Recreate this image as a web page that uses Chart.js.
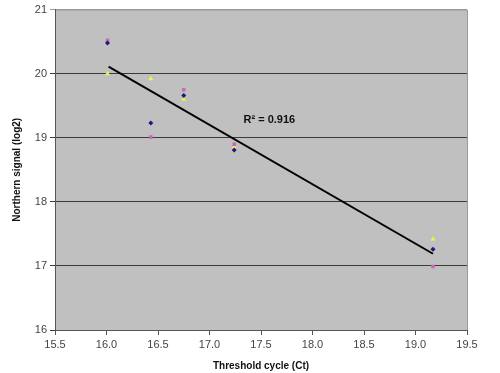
<!DOCTYPE html>
<html>
<head>
<meta charset="utf-8">
<script src="https://cdn.jsdelivr.net/npm/chart.js@4"></script>
<style>
  html, body { margin: 0; padding: 0; background: #fff; }
  #wrap { width: 500px; height: 373px; }
</style>
</head>
<body>
<div id="wrap"><canvas id="myChart" width="500" height="373"></canvas></div>
<script>
// Ct values for each sample (x) and the three replicate northern readings (y)
const ctValues = [16.01, 16.43, 16.75, 17.24, 19.17];
const seriesBlue = [20.48, 19.23, 19.66, 18.81, 17.26];
const seriesPink = [20.52, 19.01, 19.75, 18.90, 16.99];
const seriesYellow = [20.00, 19.92, 19.60, 18.85, 17.42];

// linear trend line end points
const trendX = [16.02, 19.17];
const trendY = [20.11, 17.19];
const rSquaredLabel = 'R² = 0.916';
const labelAt = [17.33, 19.27];

const xTicks = [15.5, 16, 16.5, 17, 17.5, 18, 18.5, 19, 19.5];
const yTicks = [16, 17, 18, 19, 20, 21];

function toPoints(xs, ys) {
  return xs.map((x, i) => ({ x: x, y: ys[i] }));
}

const plotBg = {
  id: 'plotBg',
  beforeDraw(chart) {
    const { ctx, chartArea: a } = chart;
    ctx.save();
    ctx.fillStyle = '#c0c0c0';
    ctx.fillRect(a.left, a.top, a.right - a.left, a.bottom - a.top);
    ctx.strokeStyle = '#9a9a9a';
    ctx.lineWidth = 1;
    ctx.beginPath();
    ctx.moveTo(a.left, a.top + 0.5);
    ctx.lineTo(a.right + 0.5, a.top + 0.5);
    ctx.lineTo(a.right + 0.5, a.bottom);
    ctx.stroke();
    ctx.restore();
  },
  afterDatasetsDraw(chart) {
    const { ctx, scales } = chart;
    const px = scales.x.getPixelForValue(labelAt[0]);
    const py = scales.y.getPixelForValue(labelAt[1]);
    ctx.save();
    ctx.fillStyle = '#111';
    ctx.font = 'bold 11px Arial, "Liberation Sans", sans-serif';
    ctx.textBaseline = 'middle';
    ctx.fillText(rSquaredLabel, px, py);
    ctx.restore();
  }
};

const ctx = document.getElementById('myChart');
const myChart = new Chart(ctx, {
  type: 'scatter',
  data: {
    datasets: [
      {
        label: 'Trend',
        type: 'line',
        data: toPoints(trendX, trendY),
        borderColor: '#000',
        borderWidth: 2,
        pointRadius: 0,
        fill: false
      },
      {
        label: 'Series1',
        data: toPoints(ctValues, seriesBlue),
        pointStyle: 'rectRot',
        backgroundColor: '#1a1a80',
        borderColor: '#1a1a80',
        pointRadius: 2.5,
        borderWidth: 0
      },
      {
        label: 'Series2',
        data: toPoints(ctValues, seriesPink),
        pointStyle: 'rect',
        backgroundColor: '#cc66bb',
        borderColor: '#cc66bb',
        pointRadius: 2.5,
        borderWidth: 0
      },
      {
        label: 'Series3',
        data: toPoints(ctValues, seriesYellow),
        pointStyle: 'triangle',
        backgroundColor: '#eeee55',
        borderColor: '#eeee55',
        pointRadius: 3,
        borderWidth: 0
      }
    ]
  },
  plugins: [plotBg],
  options: {
    responsive: false,
    animation: false,
    layout: { padding: { top: 8, right: 33, left: 0, bottom: 0 } },
    plugins: {
      legend: { display: false },
      tooltip: { enabled: false }
    },
    scales: {
      x: {
        type: 'linear',
        min: 15.5,
        max: 19.5,
        afterBuildTicks(scale) { scale.ticks = xTicks.map(v => ({ value: v })); },
        afterFit(scale) { scale.height = 43; },
        grid: { drawOnChartArea: false, drawTicks: true, tickLength: 5, color: '#555' },
        border: { color: '#555', width: 1 },
        ticks: {
          color: '#444',
          padding: 3,
          maxRotation: 0,
          font: { family: 'Arial, "Liberation Sans", sans-serif', size: 11 }
        },
        title: {
          display: true,
          text: 'Threshold cycle (Ct)',
          color: '#111',
          padding: { top: 2, bottom: 1 },
          font: { family: 'Arial, "Liberation Sans", sans-serif', size: 10, weight: 'bold' }
        }
      },
      y: {
        type: 'linear',
        min: 16,
        max: 21,
        afterBuildTicks(scale) { scale.ticks = yTicks.map(v => ({ value: v })); },
        afterFit(scale) { scale.width = 55; },
        grid: {
          tickLength: 5,
          color: c => (c.tick && c.tick.value === 21) ? '#9a9a9a' : '#3a3a3a',
          lineWidth: 1
        },
        border: { color: '#555', width: 1 },
        ticks: {
          color: '#444',
          padding: 3,
          font: { family: 'Arial, "Liberation Sans", sans-serif', size: 11 }
        },
        title: {
          display: true,
          text: 'Northern signal (log2)',
          color: '#111',
          padding: { top: 11, bottom: 0 },
          font: { family: 'Arial, "Liberation Sans", sans-serif', size: 10, weight: 'bold' }
        }
      }
    }
  }
});
</script>
</body>
</html>
